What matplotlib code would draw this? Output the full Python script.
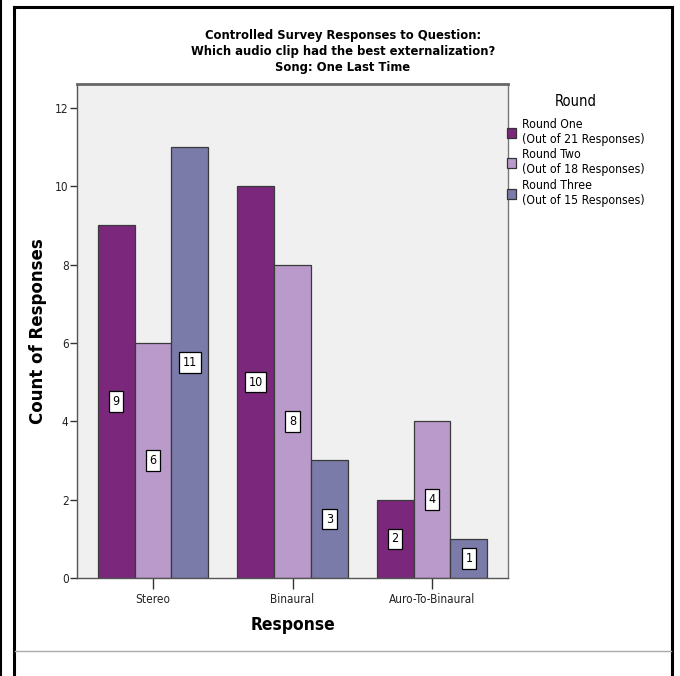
import matplotlib
matplotlib.use("Agg")
import matplotlib.pyplot as plt
import numpy as np
from matplotlib.lines import Line2D

plt.rcParams['font.family'] = ['DejaVu Sans']
plt.rcParams['font.stretch'] = 'condensed'

categories = ["Stereo", "Binaural", "Auro-To-Binaural"]
series_names = ["Round One\n(Out of 21 Responses)",
                "Round Two\n(Out of 18 Responses)",
                "Round Three\n(Out of 15 Responses)"]
round_one = [9, 10, 2]
round_two = [6, 8, 4]
round_three = [11, 3, 1]
colors = ["#7B287C", "#B99ACB", "#7A7BA9"]
title_lines = ["Controlled Survey Responses to Question:",
               "Which audio clip had the best externalization?",
               "Song: One Last Time"]

W, H = 680, 676
fig = plt.figure(figsize=(W / 100, H / 100), dpi=100)
ax = fig.add_axes([77 / W, 1 - 578 / H, (508 - 77) / W, (578 - 84) / H])
ax.set_facecolor("#F0F0F0")

x = np.arange(len(categories))
width = 0.265
for i, (vals, col, name) in enumerate(zip([round_one, round_two, round_three], colors, series_names)):
    pos = x + (i - 1) * width
    ax.bar(pos, vals, width=width, color=col, edgecolor="#3A3A3A", linewidth=0.9, label=name, zorder=2)
    for p, v in zip(pos, vals):
        ax.text(p, v / 2, str(v), ha="center", va="center", fontsize=9, zorder=3,
                bbox=dict(boxstyle="square,pad=0.3", facecolor="white", edgecolor="black", linewidth=0.9))

ax.set_xlim(-0.545, 2.545)
ax.set_ylim(0, 12.61)
ax.set_xticks(x)
ax.set_xticklabels(categories, fontsize=8.5)
ax.set_yticks([0, 2, 4, 6, 8, 10, 12])
ax.tick_params(axis="y", labelsize=8.5, length=5, width=1, colors="#333333", pad=1)
ax.tick_params(axis="x", length=8, width=1, colors="#333333", pad=3)
for lab in ax.get_xticklabels() + ax.get_yticklabels():
    lab.set_color("#222222")
for side in ["left", "bottom"]:
    ax.spines[side].set_color("#555555")
    ax.spines[side].set_linewidth(1.0)
ax.spines["top"].set_color("#666666")
ax.spines["top"].set_linewidth(2.0)
ax.spines["right"].set_color("#777777")
ax.spines["right"].set_linewidth(1.0)

ax.set_xlabel("Response", fontsize=12.5, fontweight="bold", va="top")
ax.xaxis.set_label_coords(0.5, (578 - 616) / 494)
ax.set_ylabel("Count of Responses", fontsize=12, fontweight="bold", stretch="normal", va="center")
ax.yaxis.set_label_coords((38 - 77) / 431, 0.5)

for k, line in enumerate(title_lines):
    fig.text(343 / W, 1 - (36 + 16 * k) / H, line, ha="center", va="center",
             fontsize=9.3, fontweight="bold")

fig.text(576 / W, 1 - 102 / H, "Round", ha="center", va="center", fontsize=10.5)
leg = fig.legend(loc="upper left", bbox_to_anchor=(507 / W, 1 - 118 / H), frameon=False,
                 fontsize=8.8, handlelength=0.75, handleheight=0.9, handletextpad=0.45,
                 labelspacing=0.2, borderaxespad=0, borderpad=0)
for h in leg.legend_handles:
    h.set_edgecolor("#333333")

# outer frame
lk = dict(color="black", transform=fig.transFigure)
fig.add_artist(Line2D([14 / W, 14 / W], [0, 1 - 7 / H], lw=2.2, **lk))
fig.add_artist(Line2D([14 / W, 672 / W], [1 - 7 / H, 1 - 7 / H], lw=2.2, **lk))
fig.add_artist(Line2D([672 / W, 672 / W], [0, 1 - 7 / H], lw=2.2, **lk))
fig.add_artist(Line2D([1 / W, 1 / W], [0, 1], lw=1.5, **lk))
fig.add_artist(Line2D([15 / W, 671 / W], [1 - 651 / H, 1 - 651 / H], color="#AAAAAA", lw=1.0,
                      transform=fig.transFigure))

fig.savefig("out.png", dpi=100)
